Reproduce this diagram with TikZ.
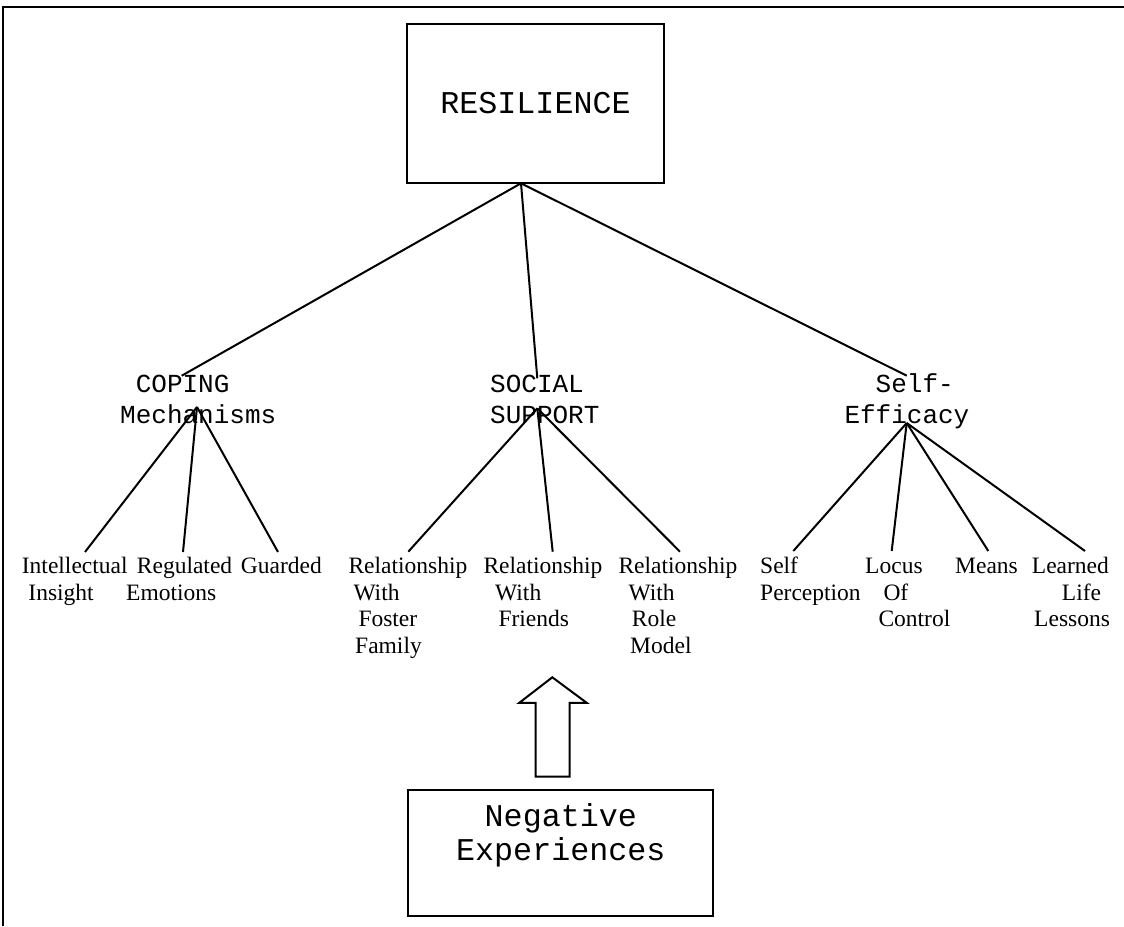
\documentclass[tikz,border=0pt]{standalone}
\usepackage{fontspec}
\setmainfont{Liberation Serif}
\newfontfamily\cour{Liberation Mono}
\begin{document}
\begin{tikzpicture}[x=1pt,y=-1pt,
  link/.style={line width=2pt},
  box/.style={draw, line width=2pt, inner sep=0pt},
  lbl/.style={inner sep=0pt, anchor=base west, align=left},
  big/.style={font=\cour\fontsize{31.7}{33.3}\selectfont},
  mid/.style={lbl, font=\cour\fontsize{26}{31}\selectfont},
  leaf/.style={lbl, font=\fontsize{23.5}{26.7}\selectfont}]
\useasboundingbox (0,0) rectangle (1124,926);
% frame
\draw[line width=2pt] (3.3,926) -- (3.3,7) -- (1124,7);
% top box
\node[box, big, minimum width=257pt, minimum height=159pt] (res) at (535.5,103.5) {RESILIENCE};
% middle labels (anchored at the baseline of their last line)
\node[mid] (coping) at (120,423.3) {\hspace*{0.6em}COPING\\Mechanisms};
\node[mid] (social) at (490,423.3) {SOCIAL\\SUPPORT};
\node[mid] (selfeff) at (844.3,423.3) {\hspace*{1.2em}Self-\\Efficacy};
% leaves (anchored at the baseline of their last line)
\node[leaf] (intel) at (21.7,600) {Intellectual\\\hspace*{6.6pt}Insight};
\node[leaf] (regul) at (126,600) {\hspace*{10.7pt}Regulated\\Emotions};
\node[leaf] (guard) at (240.7,573.3) {Guarded};
\node[leaf] (relff) at (348.3,653.4) {Relationship\\\hspace*{5pt}With\\\hspace*{10pt}Foster\\\hspace*{6.7pt}Family};
\node[leaf] (relfr) at (483.3,626.7) {Relationship\\\hspace*{11.7pt}With\\\hspace*{15pt}Friends};
\node[leaf] (relrm) at (618.3,653.4) {Relationship\\\hspace*{10pt}With\\\hspace*{13.4pt}Role\\\hspace*{11.7pt}Model};
\node[leaf] (selfp) at (760,600) {Self\\Perception};
\node[leaf] (locus) at (865,626.7) {Locus\\\hspace*{18.3pt}Of\\\hspace*{13.3pt}Control};
\node[leaf] (means) at (955,573.3) {Means};
\node[leaf] (learn) at (1031.7,626.7) {Learned\\\hspace*{30pt}Life\\\hspace*{2.3pt}Lessons};
% connection points
\coordinate (resB) at (521,183.3);
\coordinate (copT) at (181.7,375.7);
\coordinate (socT) at (537.3,378.3);
\coordinate (selT) at (906.7,375.7);
\coordinate (copF) at (197,407);
\coordinate (socF) at (537.3,408.3);
\coordinate (selF) at (906.7,423);
\coordinate (intelT) at (85,552);
\coordinate (regulT) at (183,552);
\coordinate (guardT) at (278,552);
\coordinate (relffT) at (408.3,551.7);
\coordinate (relfrT) at (552.7,551.7);
\coordinate (relrmT) at (680,551.7);
\coordinate (selfpT) at (793.3,551);
\coordinate (locusT) at (891.7,551);
\coordinate (meansT) at (988.3,551);
\coordinate (learnT) at (1085,551);
% connectors
\draw[link] (resB) -- (copT);
\draw[link] (resB) -- (socT);
\draw[link] (resB) -- (selT);
\draw[link] (copF) -- (intelT);
\draw[link] (copF) -- (regulT);
\draw[link] (copF) -- (guardT);
\draw[link] (socF) -- (relffT);
\draw[link] (socF) -- (relfrT);
\draw[link] (socF) -- (relrmT);
\draw[link] (selF) -- (selfpT);
\draw[link] (selF) -- (locusT);
\draw[link] (selF) -- (meansT);
\draw[link] (selF) -- (learnT);
% bottom box and block arrow
\node[box, minimum width=305pt, minimum height=126pt] (neg) at (560.8,853) {};
\node[big, inner sep=0pt, anchor=base, align=center] (negtxt) at (560.8,860) {Negative\\Experiences};
\draw[link, line join=miter] (552.3,677.3) -- (586.7,702.8) -- (569.7,702.8) -- (569.7,776.7)
  -- (535.5,776.7) -- (535.5,702.8) -- (519.3,702.8) -- cycle;
\end{tikzpicture}
\end{document}
